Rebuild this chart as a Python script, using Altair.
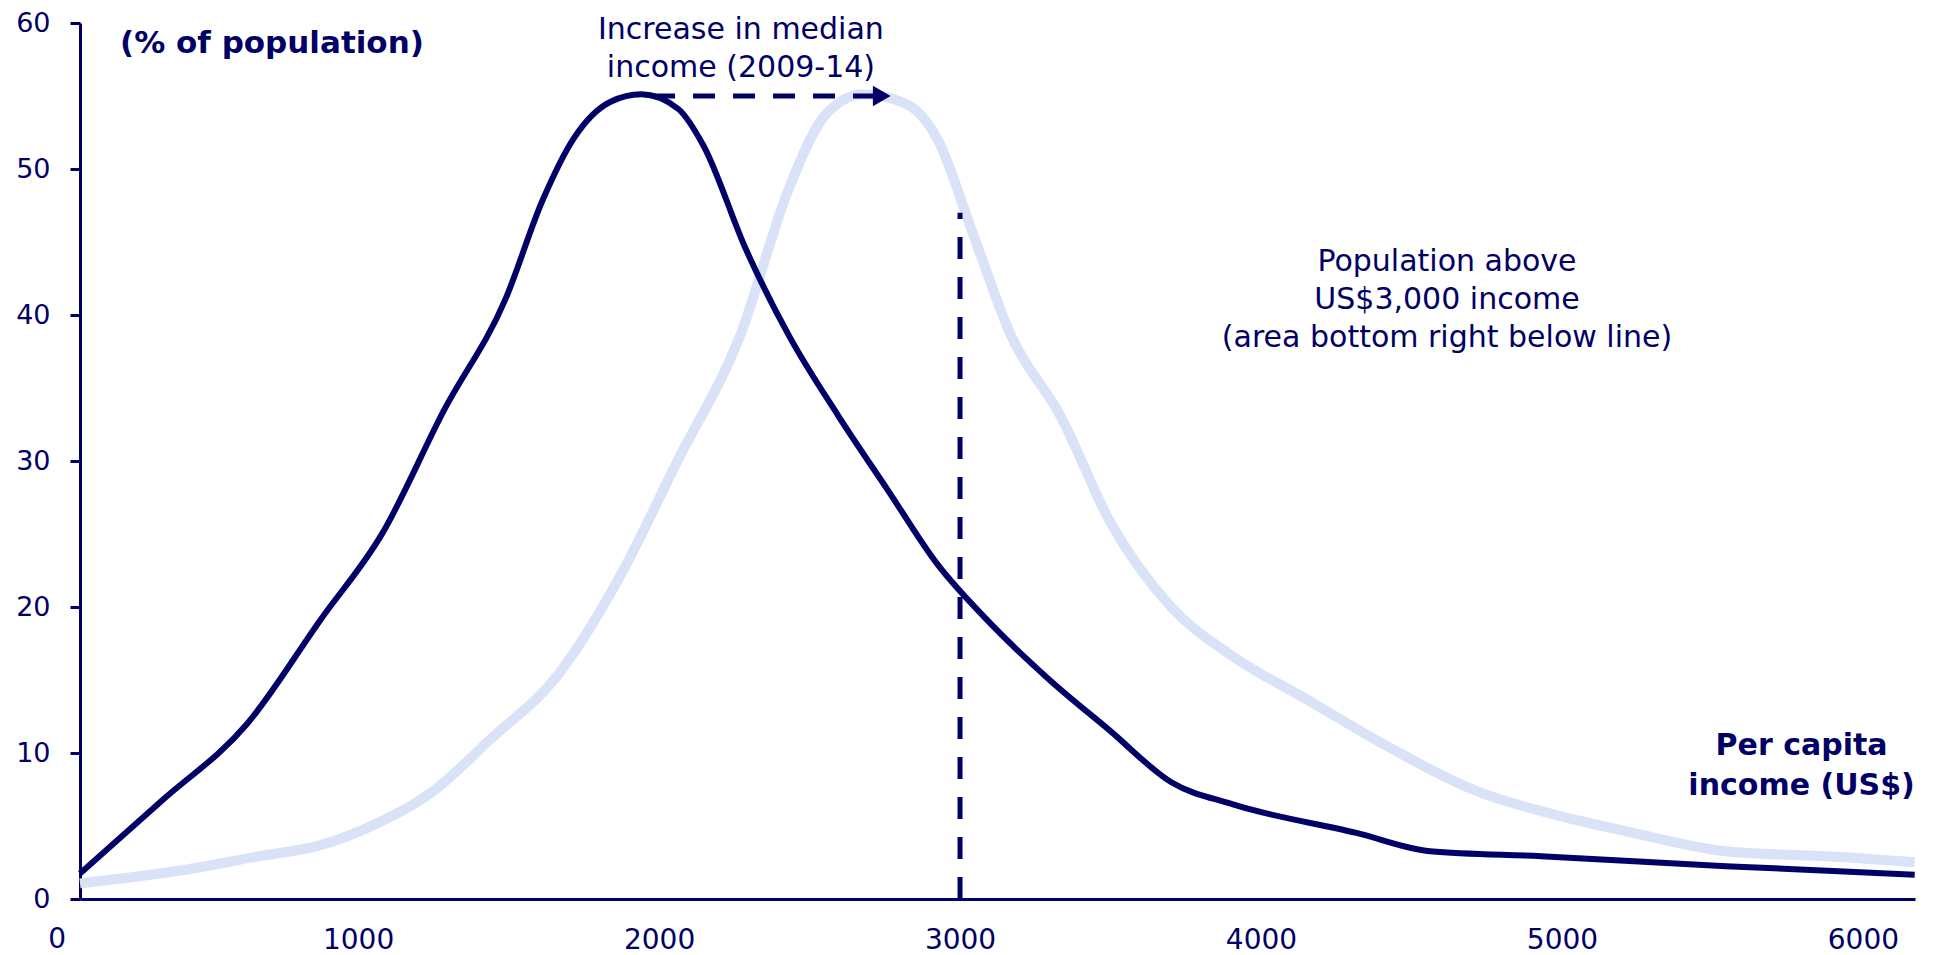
import altair as alt
import pandas as pd

# ---- data ----
dark_income = [76, 343, 630, 876, 1081, 1286, 1490, 1613, 1716, 1839, 1941, 2064, 2146,
               2289, 2432, 2596, 2760, 2924, 3088, 3293, 3497, 3702, 3907, 4317, 4562,
               4931, 5545, 6172]
dark_pct = [1.75, 6.65, 11.97, 19.15, 25.06, 33.50, 41.10, 47.86, 52.08, 54.61, 55.12, 54.11,
            51.66, 44.48, 38.57, 33.08, 28.01, 22.95, 19.15, 15.09, 11.55, 8.0, 6.48, 4.53,
            3.27, 2.93, 2.25, 1.66]

light_income = [76, 425, 671, 876, 1040, 1245, 1449, 1654, 1859, 2064, 2269, 2432, 2555,
                2678, 2822, 2924, 3047, 3170, 3334, 3497, 3702, 3907, 4153, 4399, 4726,
                4972, 5218, 5545, 5955, 6172]
light_pct = [1.07, 2.00, 2.93, 3.69, 4.96, 7.32, 11.12, 15.09, 21.68, 30.12, 38.57, 48.70,
             53.77, 55.12, 54.45, 52.08, 45.33, 38.57, 33.08, 25.90, 19.99, 16.61, 13.66,
             10.70, 7.32, 5.80, 4.62, 3.27, 2.85, 2.51]

x_tick_values = [1000, 2000, 3000, 4000, 5000, 6000]
y_tick_values = [0, 10, 20, 30, 40, 50, 60]

threshold_income = [3000]
threshold_top = [47]
median_from = [1980]
median_to = [2722]
median_level = [55]
arrow_tip_income = [2740]

NAVY = "#000066"
LIGHT = "#d9e2f6"
FONT = "DejaVu Sans"
LABEL_PAD = 27

dark = pd.DataFrame({"income": dark_income, "pct": dark_pct})
light = pd.DataFrame({"income": light_income, "pct": light_pct})

xscale = alt.Scale(domain=[76, 6173], nice=False, zero=False)
yscale = alt.Scale(domain=[0, 60], nice=False, zero=False)

xaxis = alt.Axis(values=x_tick_values, ticks=False, grid=False, domainColor=NAVY,
                 domainWidth=3, labelColor=NAVY, labelFont=FONT, labelFontSize=28,
                 labelPadding=LABEL_PAD, labelFlush=False, labelOverlap=False, title=None,
                 format="d")
yaxis = alt.Axis(values=y_tick_values, tickSize=10, tickWidth=3, tickColor=NAVY,
                 domainColor=NAVY, domainWidth=3, grid=False, labelColor=NAVY,
                 labelFont=FONT, labelFontSize=27, labelPadding=20, labelFlush=False,
                 labelOverlap=False, title=None)

light_line = alt.Chart(light).mark_line(
    interpolate="monotone", color=LIGHT, strokeWidth=10
).encode(
    x=alt.X("income:Q", scale=xscale, axis=xaxis),
    y=alt.Y("pct:Q", scale=yscale, axis=yaxis),
)

dark_line = alt.Chart(dark).mark_line(
    interpolate="monotone", color=NAVY, strokeWidth=6
).encode(
    x=alt.X("income:Q", scale=xscale),
    y=alt.Y("pct:Q", scale=yscale),
)

vdf = pd.DataFrame({"income": threshold_income, "y0": [0], "y1": threshold_top})
vrule = alt.Chart(vdf).mark_rule(color=NAVY, strokeWidth=5, strokeDash=[22, 18]).encode(
    x=alt.X("income:Q", scale=xscale),
    y=alt.Y("y0:Q", scale=yscale),
    y2="y1:Q",
)

hdf = pd.DataFrame({"x0": median_from, "x1": median_to, "pct": median_level})
hrule = alt.Chart(hdf).mark_rule(color=NAVY, strokeWidth=5, strokeDash=[22, 18]).encode(
    x=alt.X("x0:Q", scale=xscale),
    x2="x1:Q",
    y=alt.Y("pct:Q", scale=yscale),
)

adf = pd.DataFrame({"income": arrow_tip_income, "pct": median_level})
arrow = alt.Chart(adf).mark_point(
    shape="triangle-right", filled=True, color=NAVY, opacity=1, size=420
).encode(
    x=alt.X("income:Q", scale=xscale),
    y=alt.Y("pct:Q", scale=yscale),
)

zero_df = pd.DataFrame({"income": [0], "pct": [0], "t": ["0"]})
zero_label = alt.Chart(zero_df).mark_text(
    font=FONT, fontSize=28, color=NAVY, baseline="top", align="center", dy=LABEL_PAD
).encode(
    x=alt.X("income:Q", scale=xscale),
    y=alt.Y("pct:Q", scale=yscale),
    text="t:N",
)

# y = position of the first line of each note
normal_notes = pd.DataFrame({
    "income": [2272, 4618],
    "pct": [59.55, 43.6],
    "t": ["Increase in median\nincome (2009-14)",
          "Population above\nUS$3,000 income\n(area bottom right below line)"],
})
normal_text = alt.Chart(normal_notes).mark_text(
    font=FONT, fontSize=30, color=NAVY, align="center", baseline="middle",
    lineBreak="\n", lineHeight=38
).encode(
    x=alt.X("income:Q", scale=xscale),
    y=alt.Y("pct:Q", scale=yscale),
    text="t:N",
)

title_df = pd.DataFrame({"income": [209], "pct": [58.55], "t": ["(% of population)"]})
title_text = alt.Chart(title_df).mark_text(
    font=FONT, fontSize=31, fontWeight="bold", color=NAVY, align="left", baseline="middle"
).encode(
    x=alt.X("income:Q", scale=xscale),
    y=alt.Y("pct:Q", scale=yscale),
    text="t:N",
)

xt_df = pd.DataFrame({"income": [5796], "pct": [10.5], "t": ["Per capita\nincome (US$)"]})
xt_text = alt.Chart(xt_df).mark_text(
    font=FONT, fontSize=30, fontWeight="bold", color=NAVY, align="center",
    baseline="middle", lineBreak="\n", lineHeight=40
).encode(
    x=alt.X("income:Q", scale=xscale),
    y=alt.Y("pct:Q", scale=yscale),
    text="t:N",
)

chart = alt.layer(
    light_line, dark_line, vrule, hrule, arrow, zero_label, normal_text, title_text, xt_text
).properties(
    width=1835, height=876,
    autosize="none",
    padding={"left": 72, "top": 15, "right": 14, "bottom": 55},
    background="white",
).configure_view(strokeWidth=0)

chart.save("out.html", embed_options={"renderer": "svg", "actions": False})
